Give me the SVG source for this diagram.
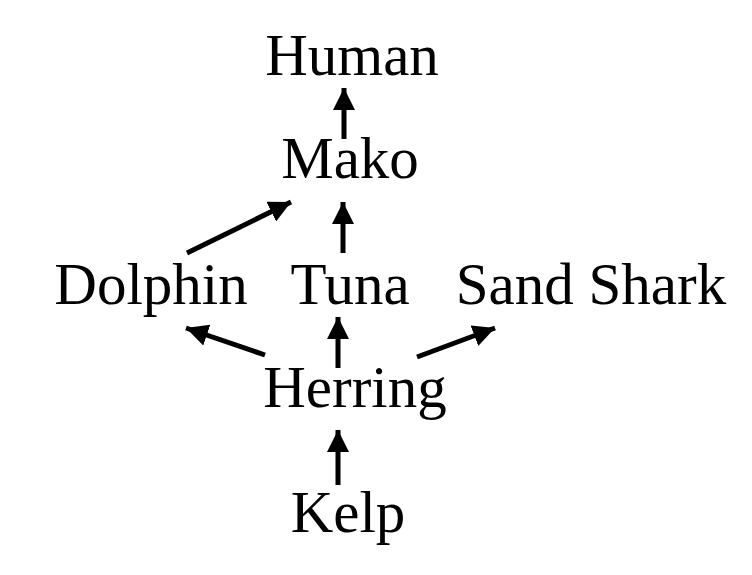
<svg xmlns="http://www.w3.org/2000/svg" width="752" height="575" viewBox="0 0 752 575">
<style>
text{font-family:"Liberation Serif","Times New Roman",serif;font-size:59px;fill:#000;text-anchor:middle}
.c line{stroke:#000;stroke-width:5;marker-end:url(#ah)}
</style>
<defs>
<marker id="ah" viewBox="0 0 10 10" refX="10" refY="5" markerUnits="userSpaceOnUse" markerWidth="22" markerHeight="22" orient="auto">
<path d="M0,0 L10,5 L0,10 z" fill="#000"/>
</marker>
</defs>
<rect width="752" height="575" fill="#fff"/>
<g id="human"><text x="352" y="75">Human</text></g>
<g id="mako"><text x="350" y="178">Mako</text></g>
<g id="dolphin"><text x="151" y="304">Dolphin</text></g>
<g id="tuna"><text x="350" y="304">Tuna</text></g>
<g id="sandshark"><text x="591" y="304">Sand Shark</text></g>
<g id="herring"><text x="355" y="407">Herring</text></g>
<g id="kelp"><text x="348" y="532">Kelp</text></g>
<g class="c" id="connectors">
<line x1="344" y1="139" x2="344" y2="88"/>
<line x1="187" y1="253" x2="291" y2="202"/>
<line x1="343" y1="253" x2="343" y2="202"/>
<line x1="265" y1="355" x2="186" y2="328"/>
<line x1="338" y1="368" x2="338" y2="317"/>
<line x1="417" y1="357" x2="495" y2="328"/>
<line x1="338" y1="485" x2="338" y2="430"/>
</g>
</svg>
